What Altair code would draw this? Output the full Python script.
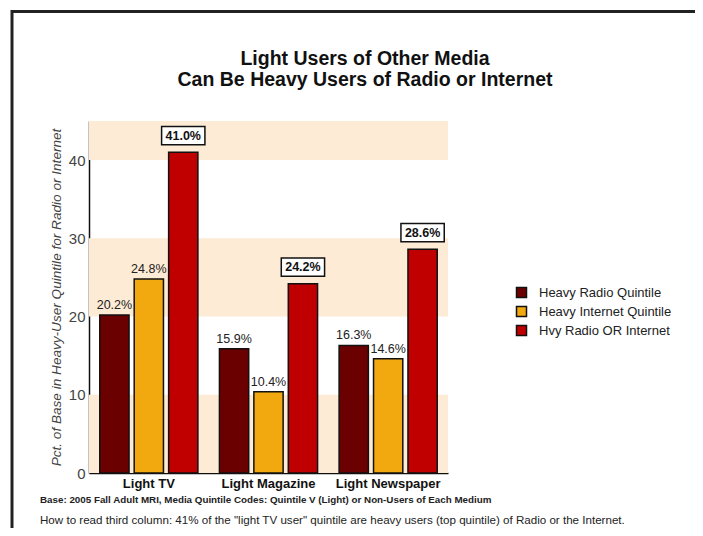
import altair as alt
import pandas as pd

categories = ["Light TV", "Light Magazine", "Light Newspaper"]
series = ["Heavy Radio Quintile", "Heavy Internet Quintile", "Hvy Radio OR Internet"]
radio = [20.2, 15.9, 16.3]
internet = [24.8, 10.4, 14.6]
either = [41.0, 24.2, 28.6]
colors = ["#6b0000", "#f2a90f", "#c00000"]

band_lo = [0, 20, 40]
band_hi = [10, 30, 45]

title_line1 = "Light Users of Other Media"
title_line2 = "Can Be Heavy Users of Radio or Internet"
foot1 = "Base: 2005 Fall Adult MRI, Media Quintile Codes: Quintile V (Light) or Non-Users of Each Medium"
foot2 = ("How to read third column: 41% of the \"light TV user\" quintile are heavy users "
         "(top quintile) of Radio or the Internet.")

rows = []
for i, c in enumerate(categories):
    for s, vals in zip(series, [radio, internet, either]):
        rows.append({"cat": c, "series": s, "value": vals[i], "label": f"{vals[i]:.1f}%"})
df = pd.DataFrame(rows)
bands = pd.DataFrame({"lo": band_lo, "hi": band_hi})

FONT = "Liberation Sans, Arial, Helvetica, sans-serif"
W, H = 359, 352

xscale = alt.Scale(paddingInner=0.18, paddingOuter=0.09)
xoff = alt.XOffset("series:N", sort=series, scale=alt.Scale(paddingInner=0.15, paddingOuter=0))
yscale = alt.Scale(domain=[0, 45], nice=False)

x_enc = alt.X("cat:N", sort=categories, scale=xscale,
              axis=alt.Axis(title=None, labelFont=FONT, labelFontSize=13, labelFontWeight="bold",
                            labelColor="#111", ticks=False, domainColor="#111", domainWidth=1.5,
                            labelPadding=4, labelAngle=0))
y_axis = alt.Axis(title="Pct. of Base in Heavy-User Quintile for Radio or Internet",
                  values=[0, 10, 20, 30, 40], grid=False, ticks=False,
                  labelFont=FONT, labelFontSize=15, labelColor="#444",
                  domainColor="#111", domainWidth=1.5, labelPadding=4,
                  titleFont=FONT, titleFontSize=13.6, titleFontStyle="italic",
                  titleFontWeight="normal", titleColor="#444", titlePadding=5)
y_enc = alt.Y("value:Q", scale=yscale, axis=y_axis)

frame = alt.Chart(pd.DataFrame({"a": [0]})).mark_rect(
    fill=None, stroke="#222", strokeWidth=3
).encode(x=alt.value(-77), x2=alt.value(700), y=alt.value(-109.5), y2=alt.value(600))

band_layer = alt.Chart(bands).mark_rect(color="#fdebd5").encode(
    x=alt.value(0), x2=alt.value(W),
    y=alt.Y("lo:Q", scale=yscale, axis=y_axis), y2="hi:Q")

shadow = alt.Chart(df).mark_bar(color="#000", opacity=0.12, xOffset=3).encode(
    x=x_enc, xOffset=xoff, y=y_enc)

bars = alt.Chart(df).mark_bar(stroke="#111", strokeWidth=1.5).encode(
    x=x_enc, xOffset=xoff, y=y_enc,
    color=alt.Color("series:N", sort=series,
                    scale=alt.Scale(domain=series, range=colors),
                    legend=alt.Legend(title=None, orient="none", legendX=426, legendY=165,
                                      symbolType="square", symbolSize=100,
                                      symbolStrokeColor="#111", symbolStrokeWidth=1.5,
                                      labelFont=FONT, labelFontSize=13, labelColor="#222",
                                      labelOffset=11, rowPadding=2, padding=0)))

plain = alt.Chart(df).transform_filter(
    alt.datum.series != series[2]
).mark_text(font=FONT, fontSize=12.5, color="#222", baseline="alphabetic", dy=-6).encode(
    x=x_enc, xOffset=xoff, y=y_enc, text="label:N")

box = alt.Chart(df).transform_filter(
    alt.datum.series == series[2]
).mark_point(shape="M-1,-0.423L1,-0.423L1,0.423L-1,0.423Z", size=1875, filled=True,
             fill="white", stroke="#111", strokeWidth=1.5, opacity=1, yOffset=-16.6).encode(
    x=x_enc, xOffset=xoff, y=y_enc)

box_text = alt.Chart(df).transform_filter(
    alt.datum.series == series[2]
).mark_text(font=FONT, fontSize=12.5, fontWeight="bold", color="#111",
            baseline="middle", dy=-16.4).encode(
    x=x_enc, xOffset=xoff, y=y_enc, text="label:N")

t1 = alt.Chart(pd.DataFrame({"t": [title_line1]})).mark_text(
    font=FONT, fontSize=19.5, fontWeight="bold", color="#111", align="center",
    baseline="alphabetic"
).encode(text="t:N", x=alt.value(276), y=alt.value(-56))

t2 = alt.Chart(pd.DataFrame({"t": [title_line2]})).mark_text(
    font=FONT, fontSize=19.5, fontWeight="bold", color="#111", align="center",
    baseline="alphabetic"
).encode(text="t:N", x=alt.value(276), y=alt.value(-35.5))

f1 = alt.Chart(pd.DataFrame({"t": [foot1]})).mark_text(
    font=FONT, fontSize=9.8, fontWeight="bold", color="#222", align="left", baseline="alphabetic"
).encode(text="t:N", x=alt.value(-49), y=alt.value(382))

f2 = alt.Chart(pd.DataFrame({"t": [foot2]})).mark_text(
    font=FONT, fontSize=11.6, color="#222", align="left", baseline="alphabetic"
).encode(text="t:N", x=alt.value(-49), y=alt.value(403))

chart = alt.layer(frame, band_layer, shadow, bars, plain, box, box_text, t1, t2, f1, f2).properties(
    width=W, height=H,
    autosize="none",
    padding={"left": 81, "top": 113, "right": 247, "bottom": 55},
    background="white",
).configure_view(stroke=None)

chart.save("out.html", embed_options={"renderer": "svg", "actions": False})
